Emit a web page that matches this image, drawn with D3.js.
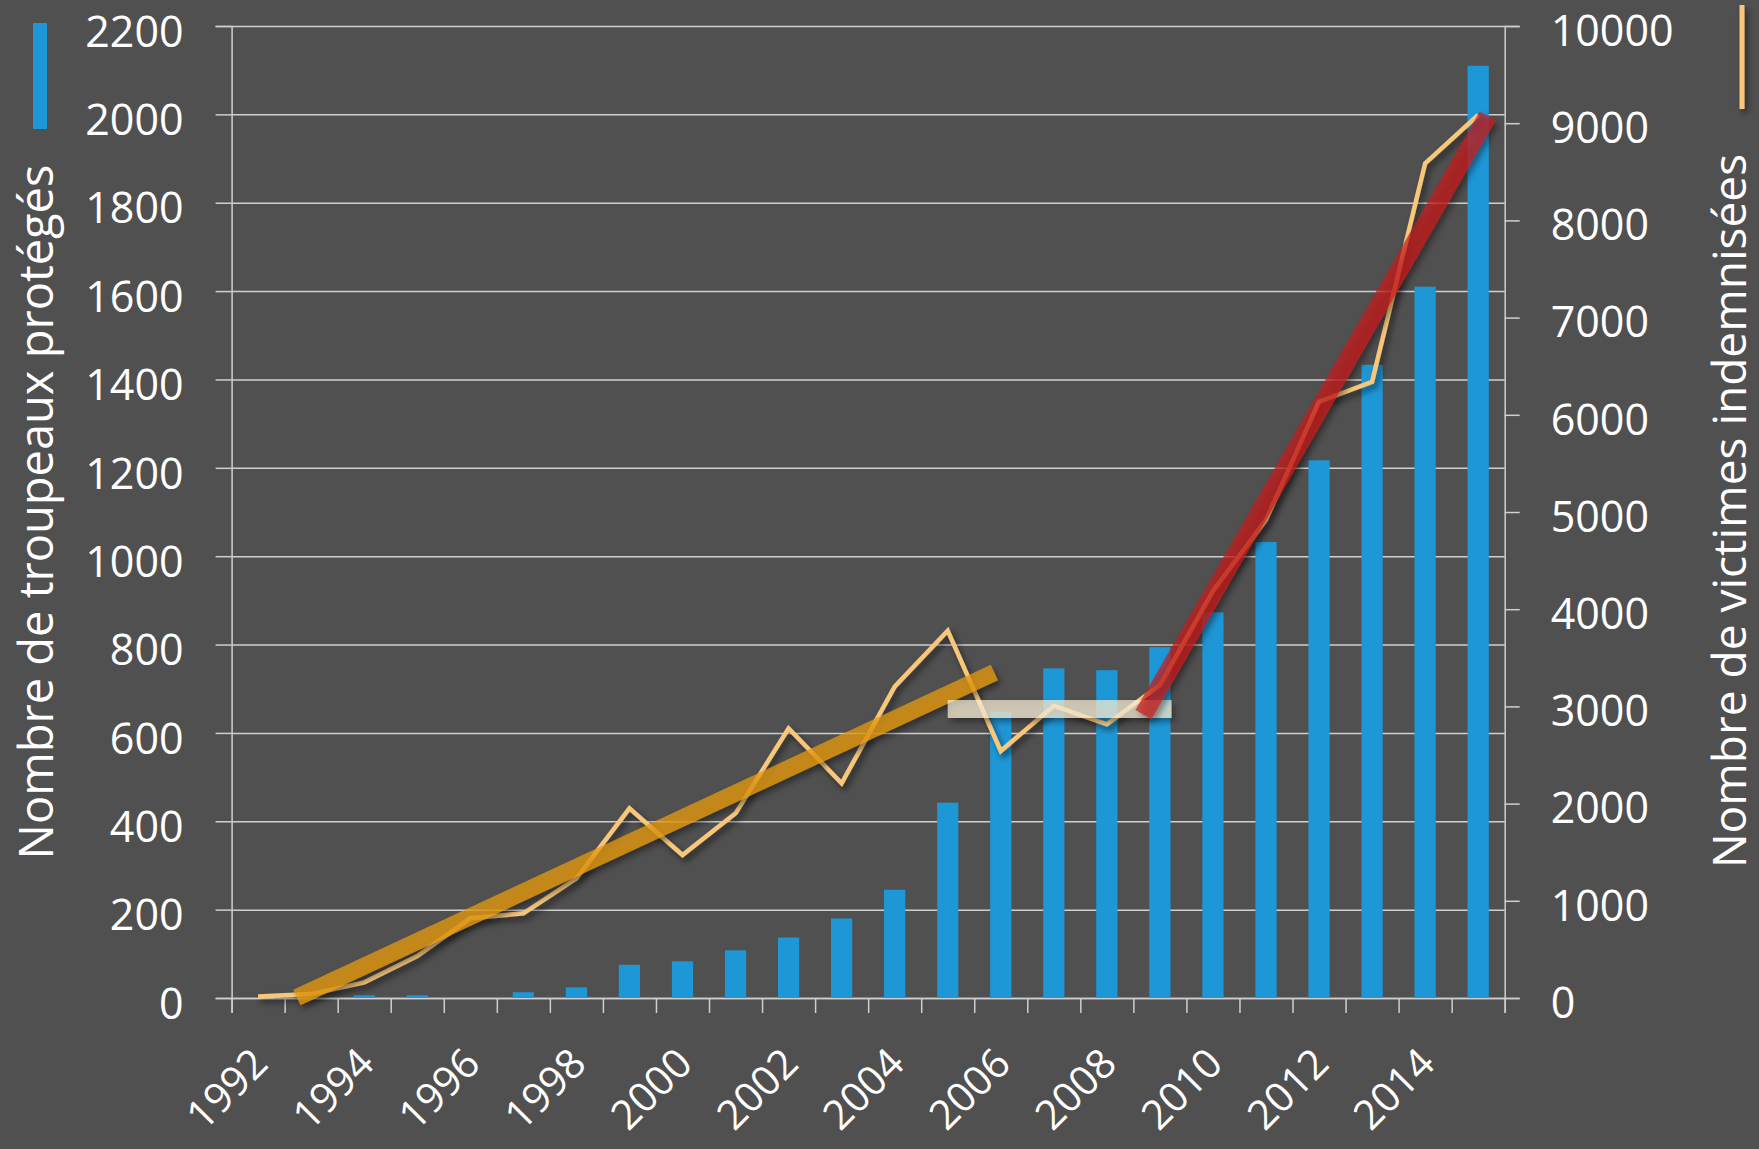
<!DOCTYPE html>
<html>
<head>
<meta charset="utf-8">
<script src="https://cdn.jsdelivr.net/npm/d3@7/dist/d3.min.js"></script>
<style>
  body { margin: 0; background: #505050; }
  #chart text { font-family: "Open Sans", sans-serif; fill: #ffffff; }
</style>
</head>
<body>
<div id="chart"></div>
<script>

// Categories
var years = [1992,1993,1994,1995,1996,1997,1998,1999,2000,2001,2002,2003,
             2004,2005,2006,2007,2008,2009,2010,2011,2012,2013,2014,2015]
var yearLabels = [1992,1994,1996,1998,2000,2002,2004,2006,2008,2010,2012,2014]

// Bars : nombre de troupeaux protégés (left axis)
var troupeaux = [0,0,6,6,0,13,24,75,83,108,137,180,
                 245,442,648,746,742,794,873,1032,1217,1433,1610,2110]

// Line : nombre de victimes indemnisées (right axis)
var victimes = [15,40,161,432,820,871,1231,1951,1471,1900,2775,2209,
                3203,3779,2541,3007,2816,3220,4187,4920,6135,6340,8587,9084]

// Tick labels
var leftTicks = [0,200,400,600,800,1000,1200,1400,1600,1800,2000,2200]
var rightTicks = [0,1000,2000,3000,4000,5000,6000,7000,8000,9000,10000]

// Hand drawn trends, [year, victimes]
var trendRise = [[1992.73, 5], [2005.88, 3349]]
var trendFlat = [[2005.0, 2973], [2009.22, 2973]]
var trendSurge = [[2008.69, 2915], [2015.18, 9074]]

var width = 1759, height = 1149
var plotLeft = 231.6, plotRight = 1504.7, plotTop = 26, plotBottom = 998

var svg = d3.select("#chart").append("svg")
    .attr("width", width)
    .attr("height", height)

svg.append("rect")
    .attr("width", width)
    .attr("height", height)
    .attr("fill", "#505050")

// Drop shadow used by the line and the trend bands
// (user space region, so the flat band with a zero-height bbox still renders)
var defs = svg.append("defs")
defs.append("filter")
    .attr("id", "shadow")
    .attr("filterUnits", "userSpaceOnUse")
    .attr("x", 0).attr("y", 0)
    .attr("width", width).attr("height", height)
  .append("feDropShadow")
    .attr("dx", 3).attr("dy", 4)
    .attr("stdDeviation", 3)
    .attr("flood-color", "#000")
    .attr("flood-opacity", 0.55)

// Scales
var x = d3.scaleBand()
    .domain(years)
    .range([plotLeft, plotRight])
    .paddingInner(0.6)
    .paddingOuter(0.3)

var xl = d3.scaleLinear()
    .domain([1991.5, 2015.5])
    .range([plotLeft, plotRight])

var yLeft = d3.scaleLinear()
    .domain([0, 2200])
    .range([plotBottom, plotTop])

var yRight = d3.scaleLinear()
    .domain([0, 10000])
    .range([plotBottom, plotTop])

var gridColor = "#cfcfcf"
var fmt = d3.format("d")

// Gridlines + left axis
var gLeft = svg.append("g")
    .attr("transform", "translate(" + plotLeft + ",0)")
    .call(d3.axisLeft(yLeft).tickValues(leftTicks).tickFormat(fmt).tickSize(16).tickPadding(32))
gLeft.select(".domain").attr("stroke", gridColor).attr("stroke-width", 1.5)
gLeft.selectAll(".tick line").attr("stroke", gridColor).attr("stroke-width", 1.5)
  .clone()
    .attr("x1", 0)
    .attr("x2", plotRight - plotLeft)
gLeft.selectAll(".tick text")
    .attr("font-size", "43px")
    .attr("dy", "0.47em")
    .attr("fill", "#fff")

// Right axis
var gRight = svg.append("g")
    .attr("transform", "translate(" + plotRight + ",0)")
    .call(d3.axisRight(yRight).tickValues(rightTicks).tickFormat(fmt).tickSize(15).tickPadding(31))
gRight.select(".domain").attr("stroke", gridColor).attr("stroke-width", 1.5)
gRight.selectAll(".tick line").attr("stroke", gridColor).attr("stroke-width", 1.5)
gRight.selectAll(".tick text")
    .attr("font-size", "43px")
    .attr("dy", "0.45em")
    .attr("fill", "#fff")

// Bottom axis, ticks between categories
var boundaries = years.map(function(d){ return d - 0.5 }).concat([years[years.length-1] + 0.5])
var gBottom = svg.append("g")
    .attr("transform", "translate(0," + plotBottom + ")")
    .call(d3.axisBottom(xl).tickValues(boundaries).tickSize(15).tickFormat(""))
gBottom.select(".domain").attr("stroke", gridColor).attr("stroke-width", 1.5)
gBottom.selectAll(".tick line").attr("stroke", gridColor).attr("stroke-width", 1.5)

// Year labels
svg.append("g").selectAll("text")
    .data(yearLabels)
  .enter().append("text")
    .attr("transform", function(d){ return "translate(" + (x(d) + x.bandwidth()/2 + 12) + ",1066) rotate(-45)" })
    .attr("text-anchor", "end")
    .attr("font-size", "41px")
    .text(function(d){ return d })

// Bars
svg.append("g").selectAll("rect")
    .data(years)
  .enter().append("rect")
    .attr("x", function(d){ return x(d) })
    .attr("width", x.bandwidth())
    .attr("y", function(d, i){ return yLeft(troupeaux[i]) })
    .attr("height", function(d, i){ return plotBottom - yLeft(troupeaux[i]) })
    .attr("fill", "#1e97d7")

// Victims line
var line = d3.line()
    .x(function(d, i){ return xl(years[i]) })
    .y(function(d){ return yRight(d) })

svg.append("path")
    .datum(victimes)
    .attr("d", line)
    .attr("fill", "none")
    .attr("stroke", "#f8c77a")
    .attr("stroke-width", 4.5)
    .attr("stroke-linejoin", "miter")
    .attr("filter", "url(#shadow)")

// Trend bands
var trendLine = d3.line()
    .x(function(d){ return xl(d[0]) })
    .y(function(d){ return yRight(d[1]) })

var trends = [
  { pts: trendRise,  color: "#e69b0a", opacity: 0.75, w: 17 },
  { pts: trendFlat,  color: "#fff5dc", opacity: 0.68, w: 18 },
  { pts: trendSurge, color: "#c81e1e", opacity: 0.7, w: 18.5 }
]
svg.append("g").selectAll("path")
    .data(trends)
  .enter().append("path")
    .attr("d", function(d){ return trendLine(d.pts) })
    .attr("fill", "none")
    .attr("stroke", function(d){ return d.color })
    .attr("stroke-opacity", function(d){ return d.opacity })
    .attr("stroke-width", function(d){ return d.w })
    .attr("stroke-linecap", "butt")
    .attr("filter", "url(#shadow)")

// Legend keys
svg.append("rect")
    .attr("x", 33).attr("y", 23)
    .attr("width", 14).attr("height", 106)
    .attr("fill", "#1e97d7")

svg.append("line")
    .attr("x1", 1742).attr("x2", 1742)
    .attr("y1", 5).attr("y2", 109)
    .attr("stroke", "#f8c77a")
    .attr("stroke-width", 5)
    .attr("filter", "url(#shadow)")

// Axis titles
svg.append("text")
    .attr("transform", "translate(53,512) rotate(-90)")
    .attr("text-anchor", "middle")
    .attr("font-size", "47px")
    .text("Nombre de troupeaux protégés")

svg.append("text")
    .attr("transform", "translate(1746,511) rotate(-90)")
    .attr("text-anchor", "middle")
    .attr("font-size", "46px")
    .text("Nombre de victimes indemnisées")

</script>
</body>
</html>
